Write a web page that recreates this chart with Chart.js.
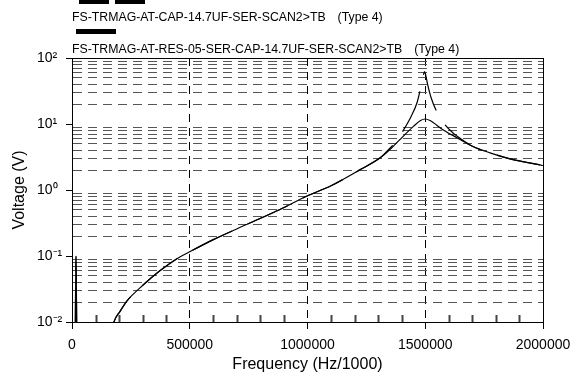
<!DOCTYPE html>
<html>
<head>
<meta charset="utf-8">
<script src="https://cdn.jsdelivr.net/npm/chart.js@4.4.0/dist/chart.umd.min.js"></script>
<style>
  body { margin: 0; background: #fff; }
</style>
</head>
<body>
<canvas id="freqChart" width="586" height="374"></canvas>
<script>
// series 1 : CAP only (dashed)
const freqCap = [0, 12000, 17000, 22000, 100000, 150000, 170000, 178000, 204000, 232000, 303000, 373000, 444000, 498000, 600000, 741000, 883000, 996000, 1100000, 1220000, 1310000, 1350000, 1380000, 1405000, 1440000, 1465000, 1477000, 1488000, 1497000, 1502000, 1510000, 1525000, 1548000, 1583000, 1620000, 1650000, 1700000, 1775000, 1860000, 2000000];
const voltCap = [0.002, 0.002, 0.1, 0.002, 0.002, 0.004, 0.0075, 0.01, 0.0145, 0.0206, 0.0366, 0.0596, 0.0904, 0.115, 0.177, 0.30, 0.507, 0.805, 1.16, 2.0, 3.1, 4.3, 5.6, 7.8, 13, 21, 31, 47, 62, 55, 40, 25, 15.6, 9.8, 7.2, 6.0, 4.6, 3.66, 2.97, 2.35];

// series 2 : RES 05 + CAP (solid)
const freqRes = [0, 12000, 17000, 22000, 100000, 150000, 170000, 178000, 204000, 232000, 303000, 373000, 444000, 498000, 600000, 741000, 883000, 996000, 1100000, 1220000, 1310000, 1350000, 1390000, 1450000, 1480000, 1500000, 1520000, 1575000, 1650000, 1700000, 1775000, 1860000, 2000000];
const voltRes = [0.002, 0.002, 0.1, 0.002, 0.002, 0.004, 0.0075, 0.01, 0.0145, 0.0206, 0.0366, 0.0596, 0.0904, 0.115, 0.177, 0.30, 0.507, 0.805, 1.16, 2.0, 3.1, 4.1, 5.7, 9.2, 11.3, 11.9, 11.3, 8.2, 5.8, 4.6, 3.66, 2.97, 2.35];

const seriesNames = ['FS-TRMAG-AT-CAP-14.7UF-SER-SCAN2>TB', 'FS-TRMAG-AT-RES-05-SER-CAP-14.7UF-SER-SCAN2>TB'];
const seriesType = '(Type 4)';

const xTicks = [0, 500000, 1000000, 1500000, 2000000];
const xMinorTicks = [100000, 200000, 300000, 400000, 600000, 700000, 800000, 900000, 1100000, 1200000, 1300000, 1400000, 1600000, 1700000, 1800000, 1900000];
const yDecades = [0.01, 0.1, 1, 10, 100];
const yDecadeLabels = ['10⁻²', '10⁻¹', '10⁰', '10¹', '10²'];
const yMinorSteps = [2, 3, 4, 5, 6, 7, 8, 9];

const FONT = '"Liberation Sans", Arial, sans-serif';
const capDash = [44, 17];
const capDashEndFreq = 1477000; // a dash of the CAP curve ends here in the original

function toPoints(xs, ys) {
    return xs.map((x, i) => ({ x: x, y: ys[i] }));
}

function decadeIndex(v) {
    return yDecades.findIndex(d => Math.abs(v / d - 1) < 1e-6);
}

let yTickValues = [];
for (let i = 0; i < yDecades.length - 1; i++) {
    yTickValues.push(yDecades[i]);
    yMinorSteps.forEach(m => yTickValues.push(yDecades[i] * m));
}
yTickValues.push(yDecades[yDecades.length - 1]);

function bezierLength(p0, c1, c2, p1) {
    let len = 0, px = p0.x, py = p0.y;
    for (let k = 1; k <= 40; k++) {
        const t = k / 40, u = 1 - t;
        const x = u*u*u*p0.x + 3*u*u*t*c1.x + 3*u*t*t*c2.x + t*t*t*p1.x;
        const y = u*u*u*p0.y + 3*u*u*t*c1.y + 3*u*t*t*c2.y + t*t*t*p1.y;
        len += Math.hypot(x - px, y - py);
        px = x; py = y;
    }
    return len;
}

// legend + frame + minor x ticks
const extrasPlugin = {
    id: 'extras',
    afterDraw(chart) {
        const ctx = chart.ctx;
        const area = chart.chartArea;
        const xs = chart.scales.x;
        const bottom = Math.round(area.bottom);
        ctx.save();
        ctx.setLineDash([]);
        ctx.fillStyle = '#000';
        // top and right frame
        ctx.fillRect(Math.round(area.left), Math.round(area.top), Math.round(area.right - area.left) + 1, 1);
        ctx.fillRect(Math.round(area.right), Math.round(area.top), 1, bottom - Math.round(area.top) + 1);
        // minor ticks, pointing into the plot
        ctx.fillStyle = '#444';
        xMinorTicks.forEach(v => {
            const px = xs.getPixelForValue(v);
            ctx.fillRect(Math.round(px) - 0.5, bottom - 7, 2, 7);
        });
        // legend samples
        ctx.fillStyle = '#000';
        ctx.fillRect(79, 0, 30, 4);
        ctx.fillRect(115, 0, 30, 4);
        ctx.fillRect(76, 29, 40, 5);
        ctx.font = '12.3px ' + FONT;
        ctx.textBaseline = 'alphabetic';
        ctx.textAlign = 'left';
        const rows = [21, 52.5];
        seriesNames.forEach((name, i) => {
            ctx.fillText(name, 72, rows[i]);
            const w = ctx.measureText(name).width;
            ctx.fillText(seriesType, 72 + w + 12, rows[i]);
        });
        ctx.restore();
    }
};

const ctx = document.getElementById('freqChart').getContext('2d');
const freqChart = new Chart(ctx, {
    type: 'line',
    data: {
        datasets: [
            {
                label: seriesNames[0],
                data: toPoints(freqCap, voltCap),
                borderColor: '#000',
                borderWidth: 1.2,
                borderDash: capDash,
                borderDashOffset: 0,
                pointRadius: 0,
                cubicInterpolationMode: 'monotone',
                fill: false
            },
            {
                label: seriesNames[1],
                data: toPoints(freqRes, voltRes),
                borderColor: '#000',
                borderWidth: 1.2,
                pointRadius: 0,
                cubicInterpolationMode: 'monotone',
                fill: false
            }
        ]
    },
    options: {
        responsive: false,
        animation: false,
        devicePixelRatio: 1,
        layout: { padding: { top: 58, left: 37, right: 43, bottom: 0 } },
        plugins: {
            legend: { display: false },
            tooltip: { enabled: false }
        },
        scales: {
            x: {
                type: 'linear',
                min: 0,
                max: 2000000,
                afterFit: s => { s.height = 52; },
                afterBuildTicks: s => { s.ticks = xTicks.map(v => ({ value: v })); },
                ticks: {
                    autoSkip: false,
                    maxRotation: 0,
                    padding: 8,
                    color: '#000',
                    font: { family: FONT, size: 14 },
                    callback: v => String(v)
                },
                grid: {
                    color: c => (c.tick && (c.tick.value === 0 || c.tick.value === 2000000)) ? 'rgba(0,0,0,0)' : '#000',
                    tickColor: '#000',
                    tickLength: 7,
                    lineWidth: 1
                },
                border: { display: true, color: '#000', width: 1, dash: [8, 6] },
                title: {
                    display: true,
                    text: 'Frequency (Hz/1000)',
                    color: '#000',
                    font: { family: FONT, size: 16 },
                    padding: { top: 0, bottom: 0 }
                }
            },
            y: {
                type: 'logarithmic',
                min: 0.01,
                max: 100,
                afterFit: s => { s.width = 35; },
                afterBuildTicks: s => { s.ticks = yTickValues.map(v => ({ value: v })); },
                ticks: {
                    autoSkip: false,
                    crossAlign: 'far',
                    padding: 3,
                    color: '#000',
                    font: { family: FONT, size: 14 },
                    callback: v => {
                        const i = decadeIndex(v);
                        return i >= 0 ? yDecadeLabels[i] : '';
                    }
                },
                grid: {
                    color: c => (c.tick && decadeIndex(c.tick.value) < 0) ? '#555' : 'rgba(0,0,0,0)',
                    tickColor: c => (c.tick && decadeIndex(c.tick.value) >= 0) ? '#000' : 'rgba(0,0,0,0)',
                    tickLength: 6,
                    lineWidth: 1
                },
                border: { display: true, color: '#000', width: 1, dash: [9, 6] },
                title: {
                    display: true,
                    text: 'Voltage (V)',
                    color: '#000',
                    font: { family: FONT, size: 16 },
                    padding: { top: -27, bottom: 0 }
                }
            }
        }
    },
    plugins: [extrasPlugin]
});

// put the dash phase of the CAP curve where the original has it
(function alignCapDash() {
    const pts = freqChart.getDatasetMeta(0).data;
    let len = 0;
    for (let i = 0; i < pts.length - 1 && freqCap[i] < capDashEndFreq; i++) {
        const a = pts[i], b = pts[i + 1];
        len += bezierLength(a, { x: a.cp2x, y: a.cp2y }, { x: b.cp1x, y: b.cp1y }, b);
    }
    const period = capDash[0] + capDash[1];
    freqChart.data.datasets[0].borderDashOffset = (((capDash[0] - len) % period) + period) % period;
    freqChart.update('none');
})();
</script>
</body>
</html>
